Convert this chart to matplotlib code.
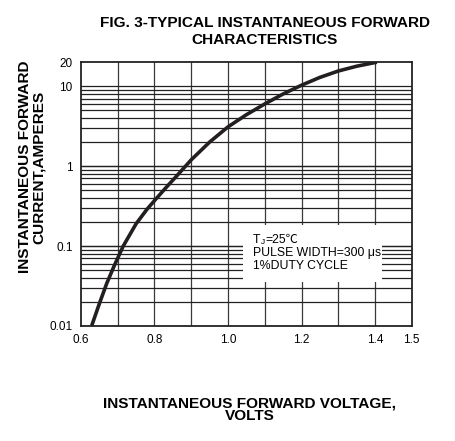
import numpy as np
import matplotlib
matplotlib.use('Agg')
import matplotlib.pyplot as plt
from matplotlib.patches import Rectangle

plt.rcParams['font.family'] = ['Liberation Sans', 'DejaVu Sans']

# curve (V, A)
volts = [0.629, 0.65, 0.67, 0.69, 0.715, 0.75, 0.78, 0.80, 0.83, 0.86,
         0.90, 0.95, 1.00, 1.05, 1.10, 1.15, 1.20, 1.25, 1.30, 1.35, 1.405]
amps = [0.010, 0.019, 0.034, 0.056, 0.10, 0.19, 0.29, 0.37, 0.53, 0.75,
        1.2, 2.0, 3.1, 4.4, 6.0, 8.0, 10.3, 12.9, 15.5, 17.8, 20.0]

xticks = [0.6, 0.8, 1.0, 1.2, 1.4, 1.5]
xtick_labels = ['0.6', '0.8', '1.0', '1.2', '1.4', '1.5']
yticks = [0.01, 0.1, 1, 10, 20]
ytick_labels = ['0.01', '0.1', '1', '10', '20']

fig = plt.figure(figsize=(4.55, 4.41), dpi=100)
ax = fig.add_axes([0.178, 0.261, 0.727, 0.598])
ax.set_yscale('log')
ax.set_xlim(0.6, 1.5); ax.set_ylim(0.01, 20)

# grid: every 0.1 V, log minors on current
for v in np.arange(0.7, 1.45, 0.1):
    ax.axvline(v, color='#3a3a3a', lw=0.9, zorder=1)
for dec in [0.01, 0.1, 1]:
    for m in range(1, 11):
        y = dec * m
        if 0.01 < y < 20:
            ax.axhline(y, color='#222222', lw=0.9, zorder=1)

# white box behind the note
ax.add_patch(Rectangle((1.04, 0.035), 0.38, 0.148, facecolor='white',
                       edgecolor='none', zorder=2))
fs = 8.8
cjk = ['Liberation Sans', 'Noto Sans CJK SC', 'DejaVu Sans']
ax.annotate('T', (1.068, 0.119), fontsize=fs, va='center', ha='left', zorder=3)
ax.annotate('J', (1.068, 0.119), xytext=(5.4, -1.6), textcoords='offset points',
            fontsize=6, va='center', ha='left', zorder=3)
ax.annotate('=25\u2103', (1.068, 0.119), xytext=(8.6, 0), textcoords='offset points',
            fontsize=fs, va='center', ha='left', family=cjk, zorder=3)
ax.text(1.068, 0.081, 'PULSE WIDTH=300 \u03bcs', fontsize=fs, va='center',
        ha='left', zorder=3)
ax.text(1.068, 0.056, '1%DUTY CYCLE', fontsize=fs, va='center', ha='left',
        zorder=3)

ax.plot(volts, amps, color='#231f20', lw=2.6, zorder=4, solid_capstyle='butt',
        solid_joinstyle='round')

ax.set_xticks(xticks); ax.set_xticklabels(xtick_labels)
ax.set_yticks(yticks); ax.set_yticklabels(ytick_labels)
ax.yaxis.set_minor_locator(matplotlib.ticker.NullLocator())
ax.tick_params(length=0, labelsize=8.5, pad=6)
for s in ax.spines.values():
    s.set_linewidth(1.3); s.set_color('#222222')

fig.text(0.582, 0.948, 'FIG. 3-TYPICAL INSTANTANEOUS FORWARD', ha='center',
         va='center', fontsize=11.1, fontweight='bold')
fig.text(0.582, 0.909, 'CHARACTERISTICS', ha='center', va='center',
         fontsize=11.1, fontweight='bold')
fig.text(0.054, 0.621, 'INSTANTANEOUS FORWARD', rotation=90, ha='center',
         va='center', fontsize=11.1, fontweight='bold')
fig.text(0.0845, 0.621, 'CURRENT,AMPERES', rotation=90, ha='center',
         va='center', fontsize=11.1, fontweight='bold')
fig.text(0.549, 0.086, 'INSTANTANEOUS FORWARD VOLTAGE,', ha='center',
         va='center', fontsize=11.1, fontweight='bold')
fig.text(0.549, 0.057, 'VOLTS', ha='center', va='center', fontsize=11.1,
         fontweight='bold')

fig.savefig('out.png', dpi=100)
